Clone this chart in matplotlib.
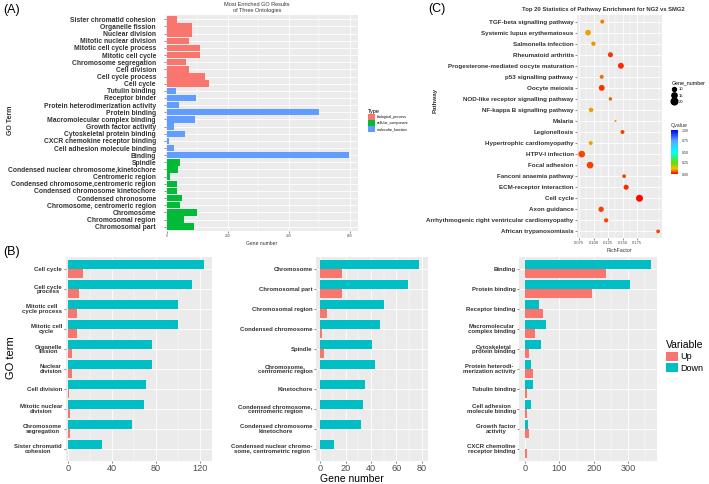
import numpy as np
import matplotlib
matplotlib.use('Agg')
import matplotlib.pyplot as plt
from matplotlib.patches import Patch
from matplotlib.lines import Line2D
from matplotlib.colors import LinearSegmentedColormap, Normalize
from matplotlib.cm import ScalarMappable

plt.rcParams['font.family'] = ['Liberation Sans', 'DejaVu Sans']

# ---------------- data: panel A ----------------
bp_terms = ['Sister chromatid cohesion', 'Organelle fission', 'Nuclear division',
            'Mitotic nuclear division', 'Mitotic cell cycle process', 'Mitotic cell cycle',
            'Chromosome segregation', 'Cell division', 'Cell cycle process', 'Cell cycle']
bp_counts = [33, 82, 82, 73, 110, 110, 62, 74, 125, 140]
mf_terms = ['Tutulin binding', 'Receptor binder', 'Protein heterodimerization activity',
            'Protein binding', 'Macromolecular complex binding', 'Growth factor activity',
            'Cytoskeletal protein binding', 'CXCR chemokine receptor binding',
            'Cell adhesion molecule binding', 'Binding']
mf_counts = [29, 96, 41, 500, 91, 23, 60, 8, 23, 598]
cc_terms = ['Spindle', 'Condensed nuclear chromosome,kinetochore', 'Centromeric region',
            'Condensed chromosome,centromeric region', 'Condensed chromosome kinetochore',
            'Condensed chronosome', 'Chromosome, centromeric region', 'Chromosome',
            'Chromosomal region', 'Chromosomal part']
cc_counts = [45, 36, 12, 35, 33, 49, 45, 100, 57, 88]
type_names = ['biological_process', 'cellular_component', 'molecular_function']

# ---------------- data: panel B ----------------
b1_terms = ['Cell cycle', 'Cell cycle\nprocess', 'Mitotic cell\ncycle process', 'Mitotic cell\ncycle',
            'Organelle\nfission', 'Nuclear\ndivision', 'Cell division', 'Mitotic nuclear\ndivision',
            'Chromosome\nsegregation', 'Sister chromatid\ncohesion']
b1_down = [124, 113, 100, 100, 76, 76, 71, 69, 58, 31]
b1_up = [14, 10, 8, 8, 4, 4, 1, 2, 2, 0]

b2_terms = ['Chromosome', 'Chromosomal part', 'Chromosomal region', 'Condensed chromosome',
            'Spindle', 'Chromosome,\ncentromeric region', 'Kinetochore',
            'Condensed chromosome,\ncentromeric region', 'Condensed chromosome\nkinetochore',
            'Condensed nuclear chromo-\nsome, centrometric region']
b2_down = [78, 69, 50, 47, 41, 43, 35, 34, 32, 11]
b2_up = [17, 17, 5, 1, 3, 0, 0, 0, 0, 0]

b3_terms = ['Binding', 'Protein binding', 'Receptor binding', 'Macromolecular\ncomplex binding',
            'Cytoskeletal\nprotein binding', 'Protein heterodi-\nmerization activity',
            'Tubulin binding', 'Cell adhesion\nmolecule binding', 'Growth factor\nactivity',
            'CXCR chemoline\nreceptor binding']
b3_down = [365, 306, 42, 61, 46, 16, 22, 17, 10, 0]
b3_up = [237, 195, 52, 30, 13, 22, 6, 6, 12, 7]

# ---------------- data: panel C ----------------
pathways = ['TGF-beta signalling pathway', 'Systemic lupus erythematosus', 'Salmonella infection',
            'Rheumatoid arthritis', 'Progesterone-mediated oocyte maturation', 'p53 signalling pathway',
            'Oocyte meiosis', 'NOD-like receptor signalling pathway', 'NF-kappa B signalling pathway',
            'Malaria', 'Legionellosis', 'Hypertrophic cardiomyopathy', 'HTPV-I infection',
            'Focal adhesion', 'Fanconi anaemia pathway', 'ECM-receptor interaction', 'Cell cycle',
            'Axon guidance', 'Arrhythmogenic right ventricular cardiomyopathy', 'African trypanosomiasis']
rich_factor = [0.115, 0.0905, 0.0997, 0.129, 0.147, 0.114, 0.114, 0.129, 0.0957, 0.1377,
               0.1497, 0.0951, 0.0796, 0.094, 0.1526, 0.156, 0.179, 0.113, 0.1216, 0.211]
gene_number = [10, 16, 11, 14, 17, 10, 17, 8, 12, 3, 10, 10, 20, 20, 9, 14, 21, 15, 11, 9]
qvalue = [0.08, 0.10, 0.09, 0.035, 0.025, 0.07, 0.035, 0.06, 0.10, 0.10,
          0.04, 0.10, 0.045, 0.04, 0.04, 0.03, 0.005, 0.04, 0.045, 0.04]

W, H = 709, 484
fig = plt.figure(figsize=(W / 100, H / 100), dpi=100)


def px_axes(l, t, r, b):
    return fig.add_axes([l / W, 1 - b / H, (r - l) / W, (b - t) / H])


GREY = '#EBEBEB'
RED, GREEN, BLUE, CYAN = '#F8766D', '#00BA38', '#619CFF', '#00BFC4'
LAB = '#333333'


def gg_style(ax, ylab_size=4.2, xlab_size=2.6):
    ax.set_facecolor(GREY)
    for s in ax.spines.values():
        s.set_visible(False)
    ax.set_axisbelow(True)
    ax.grid(True, which='major', color='white', lw=0.6)
    ax.grid(True, which='minor', axis='x', color='white', lw=0.3)
    ax.tick_params(axis='both', which='major', length=1.5, width=0.4, color='#333333', pad=1)
    ax.tick_params(axis='both', which='minor', length=0)
    ax.tick_params(axis='y', labelsize=ylab_size, labelcolor=LAB)
    ax.tick_params(axis='x', labelsize=xlab_size, labelcolor='#4d4d4d')
    for t in ax.get_yticklabels():
        t.set_fontweight('bold')


# ---------------- panel A ----------------
axA = px_axes(165.7, 15, 358, 231)
termsA = bp_terms + mf_terms + cc_terms
countsA = bp_counts + mf_counts + cc_counts
colorsA = [RED] * len(bp_terms) + [BLUE] * len(mf_terms) + [GREEN] * len(cc_terms)
yA = np.arange(len(termsA))
axA.barh(yA, countsA, height=0.9, color=colorsA)
axA.set_yticks(yA)
axA.set_yticklabels(termsA)
axA.set_ylim(len(termsA) - 0.4, -0.6)
axA.set_xlim(-3.3, 626)
axA.set_xticks([0, 200, 400, 600])
axA.set_xticks([100, 300, 500], minor=True)
gg_style(axA, 4.85, 2.4)
axA.tick_params(axis='y', pad=5.5)
axA.set_xlabel('Gene number', fontsize=3.6, color=LAB, labelpad=2)
fig.text(10 / W, 1 - 120 / H, 'GO Term', rotation=90, fontsize=5, fontweight='bold',
         color=LAB, ha='center', va='center')
fig.text(257 / W, 1 - 7.5 / H, 'Most Enriched GO Results\nof Three Ontologies', fontsize=4,
         color=LAB, ha='center', va='center', linespacing=1.1)
legA = fig.legend(handles=[Patch(facecolor=c, label=n) for c, n in zip([RED, GREEN, BLUE], type_names)],
                  title='Type', loc='upper left', bbox_to_anchor=(365 / W, 1 - 106 / H),
                  frameon=False, fontsize=2.6, title_fontsize=4, handlelength=2.1, handleheight=2.1,
                  labelspacing=0.1, handletextpad=0.4, borderpad=0.2, alignment='left')

# ---------------- panel C ----------------
axC = px_axes(577, 15, 662, 238)
cmap = LinearSegmentedColormap.from_list('q', [(0, '#ff0000'), (0.12, '#f0c000'), (0.25, '#66dd00'),
                                               (0.5, '#00ffff'), (0.75, '#55aaff'), (1, '#0000ff')])
norm = Normalize(0, 1)


def gene_size(n):
    d_px = 1.3 + 0.27 * np.asarray(n, dtype=float)
    return (d_px * 0.72) ** 2


yC = np.arange(len(pathways))
axC.scatter(rich_factor, yC, s=gene_size(gene_number), c=qvalue, cmap=cmap, norm=norm,
            linewidths=0, zorder=3)
axC.set_yticks(yC)
axC.set_yticklabels(pathways)
axC.set_ylim(len(pathways) - 0.4, -0.6)
axC.set_xlim(0.0715, 0.2177)
axC.set_xticks([0.075, 0.100, 0.125, 0.150, 0.175])
axC.set_xticklabels(['0.075', '0.100', '0.125', '0.150', '0.175'])
axC.set_xticks([0.0875, 0.1125, 0.1375, 0.1625, 0.1875, 0.2125], minor=True)
gg_style(axC, 4.5, 3.0)
axC.set_xlabel('RichFactor', fontsize=3.8, color=LAB, labelpad=1.5)
fig.text(435 / W, 1 - 100 / H, 'Pathway', rotation=90, fontsize=4.5, fontweight='bold',
         color=LAB, ha='center', va='center')
fig.text(603 / W, 1 - 10 / H, 'Top 20 Statistics of Pathway Enrichment for NG2 vs SMG2',
         fontsize=4.2, fontweight='bold', color=LAB, ha='center', va='center')

size_levels = [10, 15, 20]
legC = fig.legend(handles=[Line2D([], [], marker='o', ls='none', color='black',
                                  markersize=np.sqrt(gene_size(v)), label=str(v)) for v in size_levels],
                  title='Gene_number', loc='upper left', bbox_to_anchor=(669 / W, 1 - 77 / H),
                  frameon=False, fontsize=3, title_fontsize=3.8, handlelength=1.2,
                  labelspacing=0.55, handletextpad=0.5, borderpad=0.2, alignment='left')

cax = px_axes(671, 130, 678, 174)
cb = fig.colorbar(ScalarMappable(norm=norm, cmap=cmap), cax=cax)
cb.set_ticks([0, 0.25, 0.5, 0.75, 1.0])
cb.set_ticklabels(['0.00', '0.25', '0.50', '0.75', '1.00'])
cb.outline.set_visible(False)
cax.tick_params(labelsize=2.6, length=1.5, width=0.3, color='white', pad=1, labelcolor=LAB)
fig.text(671 / W, 1 - 125 / H, 'Qvalue', fontsize=3.8, color=LAB, ha='left', va='center')


# ---------------- panel B ----------------
def draw_b(rect, terms, down, up, xlim, major, minor):
    ax = px_axes(*rect)
    y = np.arange(len(terms))
    ax.barh(y - 0.225, down, height=0.45, color=CYAN)
    ax.barh(y + 0.225, up, height=0.45, color=RED)
    ax.set_yticks(y)
    ax.set_yticklabels(terms, multialignment='center', linespacing=0.95)
    ax.set_ylim(len(terms) - 0.4, -0.6)
    ax.set_xlim(*xlim)
    ax.set_xticks(major)
    ax.set_xticks(minor, minor=True)
    gg_style(ax, 4.3, 6.6)
    ax.tick_params(axis='x', pad=1)
    return ax


draw_b((65.5, 257, 211.7, 461), b1_terms, b1_down, b1_up, (-2, 130.6), [0, 40, 80, 120], [20, 60, 100])
draw_b((316, 257, 427.7, 461), b2_terms, b2_down, b2_up, (-3.4, 84.7), [0, 20, 40, 60, 80], [10, 30, 50, 70])
draw_b((519.3, 257, 656.7, 461), b3_terms, b3_down, b3_up, (-16.6, 383), [0, 100, 200, 300], [50, 150, 250, 350])

fig.text(11 / W, 1 - 358 / H, 'GO term', rotation=90, fontsize=8, color='black',
         ha='center', va='center')
fig.text(352 / W, 1 - 479.5 / H, 'Gene number', fontsize=7.5, color='black', ha='center', va='center')
legB = fig.legend(handles=[Patch(facecolor=RED, label='Up'), Patch(facecolor=CYAN, label='Down')],
                  title='Variable', loc='upper left', bbox_to_anchor=(660 / W, 1 - 334 / H),
                  frameon=False, fontsize=6.5, title_fontsize=7.5, handlelength=1.25, handleheight=1.25,
                  labelspacing=0.15, handletextpad=0.3, borderpad=0.2, alignment='left')

# panel tags
fig.text(3 / W, 1 - 10 / H, '(A)', fontsize=9, ha='left', va='center')
fig.text(3 / W, 1 - 252 / H, '(B)', fontsize=9, ha='left', va='center')
fig.text(428 / W, 1 - 9 / H, '(C)', fontsize=9, ha='left', va='center')

fig.savefig('out.png', dpi=100)
